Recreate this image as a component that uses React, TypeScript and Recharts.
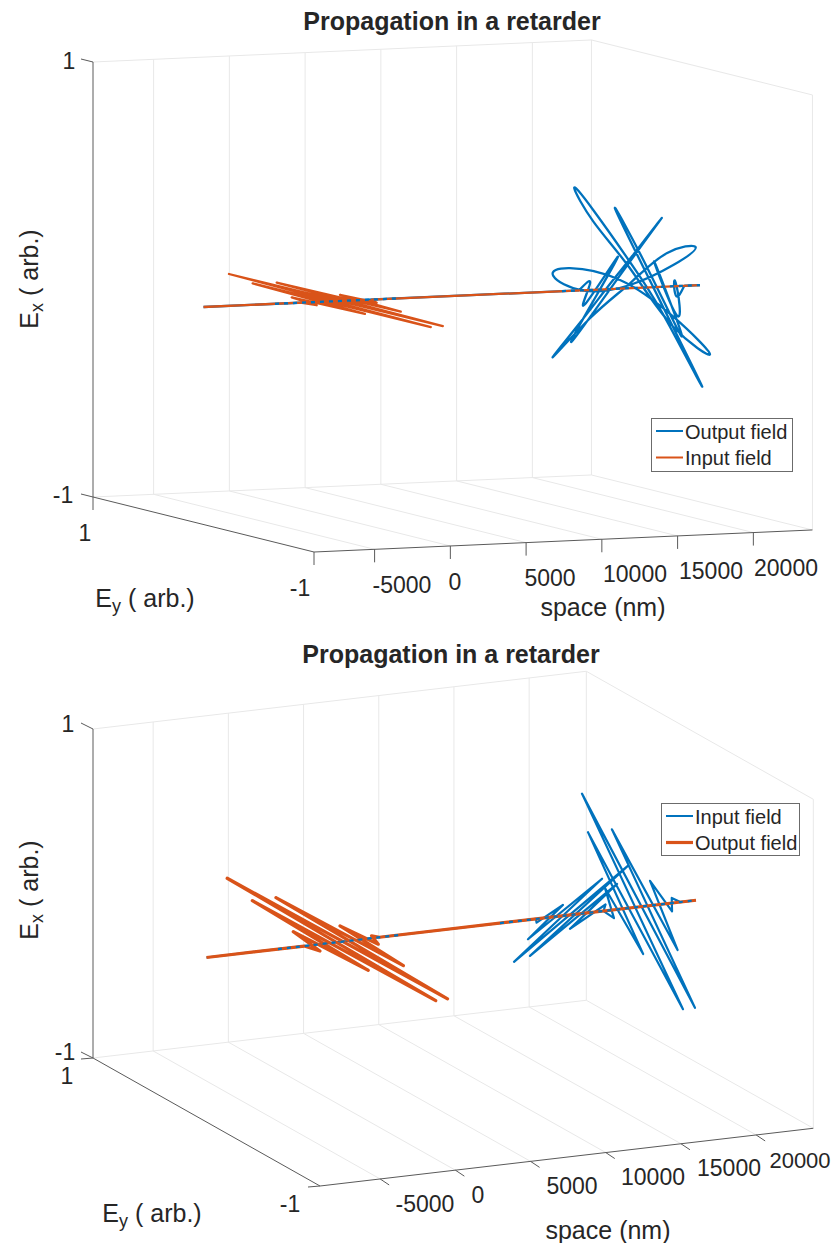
import React from 'react';
import { ComposedChart, Line, XAxis, YAxis, Legend, ReferenceDot } from 'recharts';

const BLUE = '#0072BD';
const ORANGE = '#D95319';
const AXIS = '#5a5a5a';
const GRID = '#e8e8e8';
const FONT = '"Liberation Sans", Arial, sans-serif';

const titleText = 'Propagation in a retarder';
const spaceTicks = [-5000, 0, 5000, 10000, 15000, 20000];
const spaceMin = -9000;

// upper plot: output field (elliptical packet)
const upperOutputSpace = [15786, 16172, 16558, 16944, 17137, 17330, 17523, 17716, 17813, 17909, 18006, 18102, 18218, 18334, 18430, 18488, 18585, 18681, 18778, 18874, 18951, 19067, 19164, 19260, 19357, 19453, 19550, 19646, 19743, 19839, 19936, 20032, 20225, 20418, 20611, 20804, 21190, 21576, 21962, 22348, 22734];
const upperOutputEy = [0, -0.046, 0.052, -0.187, 0.047, 0.278, -0.102, -0.483, -0.222, 0.041, 0.296, 0.556, 0.234, -0.112, -0.431, -0.685, -0.469, -0.064, 0.372, 0.656, 0.516, 0.079, -0.39, -0.709, -0.363, 0.042, 0.386, 0.572, 0.414, 0.004, -0.254, -0.533, -0.109, 0.31, 0.034, -0.242, 0.06, -0.09, -0.028, 0.025, 0];
const upperOutputEx = [0, 0.034, -0.073, 0.172, -0.051, -0.276, 0.055, 0.387, 0.192, -0.002, -0.193, -0.385, -0.165, 0.039, 0.217, 0.277, 0.167, 0.024, -0.057, -0.026, 0.027, 0.028, -0.082, -0.215, -0.132, 0.085, 0.256, 0.385, 0.305, 0.05, -0.148, -0.388, -0.032, 0.324, 0.075, -0.19, 0.108, -0.12, 0.02, -0.045, 0];
const upperOutputLeadSpace = [-9000, 15786];
const upperOutputTailSpace = [22734, 23772];

// upper plot: input field, polarised along Ey
const upperInputSpace = [-9000, -2600, -2261, -1878, -1521, -914, -782, -142, 129, 578, 1000, 1363, 1680, 2100, 23772];
const upperInputEy = [0, 0, -0.1, 0.178, -0.435, 0.664, -0.93, 0.984, -0.914, 0.651, -0.414, 0.186, -0.103, 0, 0];
const upperInputEx = [0, 0, 0, 0, 0, 0, 0, 0, 0, 0, 0, 0, 0, 0, 0];
const upperOverlapSpace = [[-4280, 3970], [14660, 23772]];

// lower plot: input field, two linear packets at +/-45 degrees
const lowerInputSpace = [-9000, 12900, 13281, 13770, 14037, 14505, 14904, 15370, 15636, 16100, 16367, 17004, 17400, 17829, 18229, 18500, 18960, 19225, 19820, 20020, 20550, 20790, 21290, 21690, 22100, 22500, 23546];
const lowerInputEy = [0, 0, 0.044, -0.123, 0.22, -0.37, 0.458, -0.485, 0.414, -0.291, 0.159, -0.07, 0, -0.035, 0.097, -0.203, 0.344, -0.458, 0.511, -0.458, 0.344, -0.203, 0.106, -0.035, 0.022, 0, 0];
const lowerInputEx = [0, 0, -0.044, 0.124, -0.221, 0.371, -0.46, 0.486, -0.415, 0.292, -0.159, 0.071, 0, -0.034, 0.093, -0.194, 0.329, -0.438, 0.489, -0.438, 0.329, -0.194, 0.101, -0.034, 0.021, 0, 0];

// lower plot: output field, polarised along Ey
const lowerOutputSpace = [-9000, -2500, -2118, -1699, -1340, -928, -596, -124, 235, 674, 1040, 1432, 1758, 2203, 2500, 23546];
const lowerOutputEy = [0, 0, -0.088, 0.203, -0.41, 0.666, -0.906, 0.994, -0.9, 0.67, -0.404, 0.206, -0.088, 0.03, 0, 0];
const lowerOutputEx = [0, 0, 0, 0, 0, 0, 0, 0, 0, 0, 0, 0, 0, 0, 0, 0];
const lowerOverlapSpace = [[-4250, 4000], [10515, 23546]];

type View = {
  origin: number[];
  sScale: number[];
  eyHalf: number[];
  exHalf: number;
  sMax: number;
  sTick: number[];
  eyTick: number[];
  exTick: number[];
};

// orthographic 3D view: turns (space, Ey, Ex) into flat chart values
const project = (view: View, s: number, ey: number, ex: number) => ({
  h: view.origin[0] + (s - spaceMin) * view.sScale[0] + (1 - ey) * view.eyHalf[0],
  v: view.origin[1] + (s - spaceMin) * view.sScale[1] + (1 - ey) * view.eyHalf[1] - (ex + 1) * view.exHalf,
});

const curve = (view: View, space: number[], ey: number[], ex: number[]) =>
  space.map((s, i) => project(view, s, ey[i], ex[i]));

const onAxis = (view: View, space: number[]) => space.map((s) => project(view, s, 0, 0));

const upperView: View = {
  origin: [93, 497], sScale: [0.01515, -0.00067], eyHalf: [110.5, 27.5], exHalf: 217.5, sMax: 23900,
  sTick: [0, 13], eyTick: [0, 13], exTick: [-12, -3],
};
const lowerView: View = {
  origin: [93, 1058], sScale: [0.01504, -0.00176], eyHalf: [113.5, 64], exHalf: 164.5, sMax: 23800,
  sTick: [9, 6], eyTick: [-12, 1], exTick: [-12, -6],
};

const seg = (key: string, rows: any[], stroke: string, width: number, extra: any = {}) => (
  <Line
    key={key}
    data={rows}
    dataKey="v"
    stroke={stroke}
    strokeWidth={width}
    dot={false}
    activeDot={false}
    legendType="none"
    isAnimationActive={false}
    strokeLinejoin="round"
    {...extra}
  />
);

const label = (key: string, x: number, y: number, text: string, size = 23, weight = 'normal') => (
  <ReferenceDot
    key={key}
    x={x}
    y={y}
    ifOverflow="visible"
    shape={(p: any) => (
      <text x={p.cx} y={p.cy} textAnchor="middle" dominantBaseline="central" fontFamily={FONT} fontSize={size} fontWeight={weight} fill="#262626">
        {text}
      </text>
    )}
  />
);

const axisName = (key: string, x: number, y: number, sub: string, rotate: boolean) => (
  <ReferenceDot
    key={key}
    x={x}
    y={y}
    ifOverflow="visible"
    shape={(p: any) => (
      <text
        x={p.cx}
        y={p.cy}
        textAnchor="middle"
        dominantBaseline="central"
        fontFamily={FONT}
        fontSize={25}
        fill="#262626"
        transform={rotate ? `rotate(-90 ${p.cx} ${p.cy})` : undefined}
      >
        <tspan>E</tspan>
        <tspan dy={8} fontSize={18}>{sub}</tspan>
        <tspan dy={-8}> ( arb.)</tspan>
      </text>
    )}
  />
);

const frame = (view: View) => {
  const out: React.ReactNode[] = [];
  const p = (s: number, ey: number, ex: number) => project(view, s, ey, ex);
  const end = view.sMax;
  // back wall, floor and side wall
  [...spaceTicks, end].forEach((s, i) => {
    out.push(seg(`wall${i}`, [p(s, 1, -1), p(s, 1, 1)], GRID, 1));
    if (s !== end) out.push(seg(`floor${i}`, [p(s, 1, -1), p(s, -1, -1)], GRID, 1));
  });
  out.push(seg('backTop', [p(spaceMin, 1, 1), p(end, 1, 1)], GRID, 1));
  out.push(seg('backBottom', [p(spaceMin, 1, -1), p(end, 1, -1)], GRID, 1));
  out.push(seg('sideTop', [p(end, 1, 1), p(end, -1, 1)], GRID, 1));
  out.push(seg('sideBottom', [p(end, 1, -1), p(end, -1, -1)], GRID, 1));
  out.push(seg('sideEdge', [p(end, -1, -1), p(end, -1, 1)], GRID, 1));
  // dark axes
  out.push(seg('axisEx', [p(spaceMin, 1, -1), p(spaceMin, 1, 1)], AXIS, 1));
  out.push(seg('axisEy', [p(spaceMin, 1, -1), p(spaceMin, -1, -1)], AXIS, 1));
  out.push(seg('axisS', [p(spaceMin, -1, -1), p(end, -1, -1)], AXIS, 1));
  const tick = (key: string, a: { h: number; v: number }, d: number[]) =>
    seg(key, [a, { h: a.h + d[0], v: a.v + d[1] }], AXIS, 1);
  spaceTicks.forEach((s, i) => out.push(tick(`tickS${i}`, p(s, -1, -1), view.sTick)));
  out.push(tick('tickEyA', p(spaceMin, 1, -1), view.eyTick));
  out.push(tick('tickEyB', p(spaceMin, -1, -1), view.eyTick));
  out.push(tick('tickExA', p(spaceMin, 1, -1), view.exTick));
  out.push(tick('tickExB', p(spaceMin, 1, 1), view.exTick));
  return out;
};

const legendBox = (names: string[], colors: string[], widths: number[], box: any) => (
  <Legend
    layout="vertical"
    align="center"
    verticalAlign="middle"
    wrapperStyle={{ left: box.left, top: box.top, width: box.width, height: box.height, boxSizing: 'border-box', border: '1px solid #6b6b6b', background: '#fff', margin: 0 }}
    content={() => (
      <svg width={box.width - 2} height={box.height - 2} style={{ display: 'block' }}>
        {names.map((n, i) => (
          <g key={n}>
            <line x1={4} x2={31} y1={12 + i * 26.5} y2={12 + i * 26.5} stroke={colors[i]} strokeWidth={widths[i]} />
            <text x={33} y={13 + i * 26} dominantBaseline="central" fontFamily={FONT} fontSize={20} fill="#262626">{n}</text>
          </g>
        ))}
      </svg>
    )}
  />
);

const Plot = ({ height, range, children }: any) => (
  <div style={{ position: 'absolute', left: 0, top: range[0], width: 832, height }}>
    <ComposedChart width={832} height={height} margin={{ top: 0, right: 0, bottom: 0, left: 0 }}>
      <XAxis type="number" dataKey="h" domain={[0, 832]} allowDataOverflow hide />
      <YAxis type="number" domain={range} allowDataOverflow reversed hide />
      {children}
    </ComposedChart>
  </div>
);

const upperLabels = [
  { t: '1', x: 69, y: 61 }, { t: '-1', x: 63, y: 495 }, { t: '1', x: 85, y: 533 }, { t: '-1', x: 300, y: 588 },
  { t: '-5000', x: 402, y: 585 }, { t: '0', x: 455, y: 582 }, { t: '5000', x: 550, y: 578 },
  { t: '10000', x: 635, y: 574 }, { t: '15000', x: 711, y: 571 }, { t: '20000', x: 786, y: 568 },
];
const lowerLabels = [
  { t: '1', x: 68, y: 724 }, { t: '-1', x: 65, y: 1052 }, { t: '1', x: 67, y: 1076 }, { t: '-1', x: 290, y: 1204 },
  { t: '-5000', x: 425, y: 1204 }, { t: '0', x: 478, y: 1195 }, { t: '5000', x: 572, y: 1186 },
  { t: '10000', x: 653, y: 1177 }, { t: '15000', x: 729, y: 1168 }, { t: '20000', x: 800, y: 1160 },
];

const overlap = (view: View, ranges: number[][], width: number) =>
  ranges.map((r, i) => seg(`overlap${i}`, onAxis(view, r), BLUE, width, { strokeDasharray: '4 5' }));

export default function App() {
  return (
    <div style={{ position: 'absolute', left: 0, top: 0, width: 832, height: 1243, background: '#fff', overflow: 'hidden' }}>
      <Plot height={632} range={[0, 632]}>
        {frame(upperView)}
        {seg('outLead', onAxis(upperView, upperOutputLeadSpace), BLUE, 2.3)}
        {seg('outPacket', curve(upperView, upperOutputSpace, upperOutputEy, upperOutputEx), BLUE, 2.3, { type: 'natural' })}
        {seg('outTail', onAxis(upperView, upperOutputTailSpace), BLUE, 2.3)}
        {seg('input', curve(upperView, upperInputSpace, upperInputEy, upperInputEx), ORANGE, 2.3)}
        {overlap(upperView, upperOverlapSpace, 2.3)}
        {upperLabels.map((l, i) => label(`u${i}`, l.x, l.y, l.t))}
        {label('uspace', 603, 607, 'space (nm)', 25)}
        {label('utitle', 452, 21, titleText, 25, 'bold')}
        {axisName('uex', 29, 279, 'x', true)}
        {axisName('uey', 145, 598, 'y', false)}
        {legendBox(['Output field', 'Input field'], [BLUE, ORANGE], [2, 2], { left: 651, top: 418, width: 142, height: 54 })}
      </Plot>
      <Plot height={611} range={[632, 1243]}>
        {frame(lowerView)}
        {seg('input', curve(lowerView, lowerInputSpace, lowerInputEy, lowerInputEx), BLUE, 2.2)}
        {seg('output', curve(lowerView, lowerOutputSpace, lowerOutputEy, lowerOutputEx), ORANGE, 3.2)}
        {overlap(lowerView, lowerOverlapSpace, 2.2)}
        {lowerLabels.map((l, i) => label(`l${i}`, l.x, l.y, l.t, l.t === '20000' ? 22 : 23))}
        {label('lspace', 608, 1230, 'space (nm)', 25)}
        {label('ltitle', 451, 654, titleText, 25, 'bold')}
        {axisName('lex', 29, 890, 'x', true)}
        {axisName('ley', 152, 1213, 'y', false)}
        {legendBox(['Input field', 'Output field'], [BLUE, ORANGE], [2, 3.2], { left: 661, top: 171, width: 139, height: 53 })}
      </Plot>
    </div>
  );
}
